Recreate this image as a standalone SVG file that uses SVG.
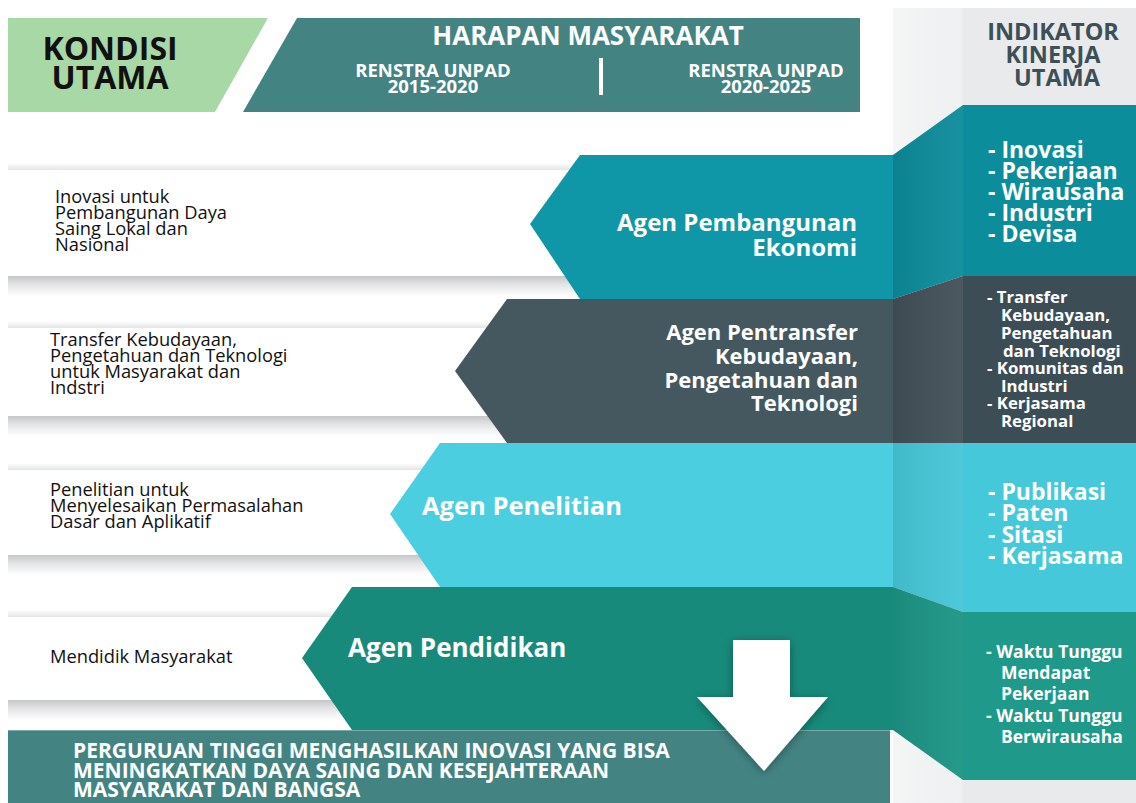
<svg xmlns="http://www.w3.org/2000/svg" width="1136" height="803" viewBox="0 0 1136 803">
<defs>
<linearGradient id="shDown" x1="0" y1="0" x2="0" y2="1">
<stop offset="0" stop-color="#c4c6c7"/>
<stop offset="0.4" stop-color="#e2e3e4"/>
<stop offset="1" stop-color="#ffffff"/>
</linearGradient>
<linearGradient id="shUp" x1="0" y1="1" x2="0" y2="0">
<stop offset="0" stop-color="#e4e5e6"/>
<stop offset="1" stop-color="#ffffff"/>
</linearGradient>
<linearGradient id="colG" x1="0" y1="0" x2="1" y2="0">
<stop offset="0" stop-color="#f4f5f5"/>
<stop offset="0.28" stop-color="#eef0f1"/>
<stop offset="0.29" stop-color="#e8eaeb"/>
<stop offset="1" stop-color="#e8eaeb"/>
</linearGradient>
<linearGradient id="sideShade" x1="0" y1="0" x2="1" y2="0">
<stop offset="0" stop-color="#000" stop-opacity="0.07"/>
<stop offset="1" stop-color="#fff" stop-opacity="0.05"/>
</linearGradient>
<filter id="ds" x="-30%" y="-30%" width="160%" height="160%">
<feDropShadow dx="0" dy="2" stdDeviation="5" flood-color="#000" flood-opacity="0.35"/>
</filter>
<style>
.hd{font-family:"Open Sans","Noto Sans",sans-serif;font-weight:700}
.lt{font-family:"Open Sans","Noto Sans",sans-serif;font-size:18.3px;fill:#111}
.wt{fill:#fff}
.big{font-size:23px}
.sm{font-size:16.8px}
</style>
</defs>
<rect width="1136" height="803" fill="#fff"/>

<g id="column-bg">
<rect x="893" y="8" width="243" height="795" fill="url(#colG)"/>
</g>

<g id="header-kondisi">
<polygon points="8,18 268,18 215,112 8,112" fill="#a9d8a7"/>
<text class="hd" font-size="32" fill="#111" text-anchor="middle"><tspan x="110" y="60">KONDISI</tspan><tspan x="110" y="89">UTAMA</tspan></text>
</g>

<g id="header-harapan">
<polygon points="297,18 860,18 860,112 243,112" fill="#438483"/>
<text class="hd wt" font-size="26" text-anchor="middle" x="588" y="45">HARAPAN MASYARAKAT</text>
<text class="hd wt" font-size="18.5" text-anchor="middle"><tspan x="433" y="77">RENSTRA UNPAD</tspan><tspan x="433" y="93">2015-2020</tspan></text>
<rect x="599" y="58" width="4" height="37" fill="#fff"/>
<text class="hd wt" font-size="18.5" text-anchor="middle"><tspan x="766" y="77">RENSTRA UNPAD</tspan><tspan x="766" y="93">2020-2025</tspan></text>
</g>

<g id="header-iku">
<text class="hd" font-size="23.5" fill="#3e4f58" text-anchor="middle"><tspan x="1053" y="40">INDIKATOR</tspan><tspan x="1053" y="63">KINERJA</tspan><tspan x="1057" y="86">UTAMA</tspan></text>
</g>

<g id="stripes">
<rect x="8" y="163" width="600" height="7" fill="url(#shUp)"/>
<rect x="8" y="276" width="600" height="20" fill="url(#shDown)"/>
<rect x="8" y="321" width="520" height="7" fill="url(#shUp)"/>
<rect x="8" y="416" width="520" height="20" fill="url(#shDown)"/>
<rect x="8" y="463" width="450" height="7" fill="url(#shUp)"/>
<rect x="8" y="555" width="450" height="20" fill="url(#shDown)"/>
<rect x="8" y="610" width="360" height="7" fill="url(#shUp)"/>
<rect x="8" y="700" width="360" height="20" fill="url(#shDown)"/>
</g>

<g id="row1">
<polygon points="580,155 893,155 893,299 580,299 530,224" fill="#0f97a7"/>
<polygon points="893,155 963,105 963,276 893,299" fill="#0c8b9a"/>
<polygon points="893,155 963,105 963,276 893,299" fill="url(#sideShade)"/>
<rect x="963" y="105" width="173" height="171" fill="#0b8d9c"/>
<text class="lt"><tspan x="55" y="203">Inovasi untuk</tspan><tspan x="55" y="219">Pembangunan Daya</tspan><tspan x="55" y="235">Saing Lokal dan</tspan><tspan x="55" y="251">Nasional</tspan></text>
<text class="hd wt" font-size="24" text-anchor="end"><tspan x="857" y="231">Agen Pembangunan</tspan><tspan x="857" y="256">Ekonomi</tspan></text>
<text class="hd wt big"><tspan x="988" y="158">- Inovasi</tspan><tspan x="988" y="179">- Pekerjaan</tspan><tspan x="988" y="200">- Wirausaha</tspan><tspan x="988" y="221">- Industri</tspan><tspan x="988" y="242">- Devisa</tspan></text>
</g>

<g id="row2">
<polygon points="507,299 893,299 893,443 507,443 455,371" fill="#45575f"/>
<polygon points="893,299 963,276 963,443 893,443" fill="#414f57"/>
<polygon points="893,299 963,276 963,443 893,443" fill="url(#sideShade)"/>
<rect x="963" y="276" width="173" height="167" fill="#3d4d56"/>
<text class="lt"><tspan x="50" y="346">Transfer Kebudayaan,</tspan><tspan x="50" y="362">Pengetahuan dan Teknologi</tspan><tspan x="50" y="378">untuk Masyarakat dan</tspan><tspan x="50" y="394">Indstri</tspan></text>
<text class="hd wt" font-size="22" text-anchor="end"><tspan x="858" y="340">Agen Pentransfer</tspan><tspan x="858" y="364">Kebudayaan,</tspan><tspan x="858" y="388">Pengetahuan dan</tspan><tspan x="858" y="411">Teknologi</tspan></text>
<text class="hd wt sm"><tspan x="987" y="303">- Transfer</tspan><tspan x="1001" y="321">Kebudayaan,</tspan><tspan x="1001" y="339">Pengetahuan</tspan><tspan x="1003" y="357">dan Teknologi</tspan><tspan x="987" y="374">- Komunitas dan</tspan><tspan x="1001" y="392">Industri</tspan><tspan x="987" y="409">- Kerjasama</tspan><tspan x="1001" y="427">Regional</tspan></text>
</g>

<g id="row3">
<polygon points="440,443 893,443 893,587 440,587 390,514" fill="#4bcee0"/>
<polygon points="893,443 963,443 963,612 893,587" fill="#45c6d7"/>
<polygon points="893,443 963,443 963,612 893,587" fill="url(#sideShade)"/>
<rect x="963" y="443" width="173" height="169" fill="#45c9da"/>
<text class="lt"><tspan x="50" y="496">Penelitian untuk</tspan><tspan x="50" y="512">Menyelesaikan Permasalahan</tspan><tspan x="50" y="528">Dasar dan Aplikatif</tspan></text>
<text class="hd wt" font-size="25.5" x="422" y="515">Agen Penelitian</text>
<text class="hd wt big"><tspan x="988" y="500">- Publikasi</tspan><tspan x="988" y="521">- Paten</tspan><tspan x="988" y="543">- Sitasi</tspan><tspan x="988" y="564">- Kerjasama</tspan></text>
</g>

<g id="row4">
<polygon points="352,587 893,587 893,730 352,730 302,658" fill="#178a7b"/>
<polygon points="893,587 963,612 963,780 893,730" fill="#1b9484"/>
<polygon points="893,587 963,612 963,780 893,730" fill="url(#sideShade)"/>
<rect x="963" y="612" width="173" height="168" fill="#1f998a"/>
<text class="lt" x="50" y="663">Mendidik Masyarakat</text>
<text class="hd wt" font-size="26" x="348" y="657">Agen Pendidikan</text>
<text class="hd wt" font-size="17.5"><tspan x="986" y="658">- Waktu Tunggu</tspan><tspan x="1001" y="679">Mendapat</tspan><tspan x="1001" y="700">Pekerjaan</tspan><tspan x="986" y="722">- Waktu Tunggu</tspan><tspan x="1001" y="743">Berwirausaha</tspan></text>
</g>

<g id="bottom-banner">
<rect x="8" y="730" width="882" height="73" fill="#438483"/>
<line x1="8" y1="730.5" x2="890" y2="730.5" stroke="#7aa9a8" stroke-width="1"/>
<text class="hd wt" font-size="21"><tspan x="73" y="758">PERGURUAN TINGGI MENGHASILKAN INOVASI YANG BISA</tspan><tspan x="73" y="778">MENINGKATKAN DAYA SAING DAN KESEJAHTERAAN</tspan><tspan x="73" y="797">MASYARAKAT DAN BANGSA</tspan></text>
</g>

<g id="connectors">
<polygon points="733,640 790,640 790,697 828,697 764,771 697,697 733,697" fill="#fff" filter="url(#ds)"/>
</g>
</svg>
